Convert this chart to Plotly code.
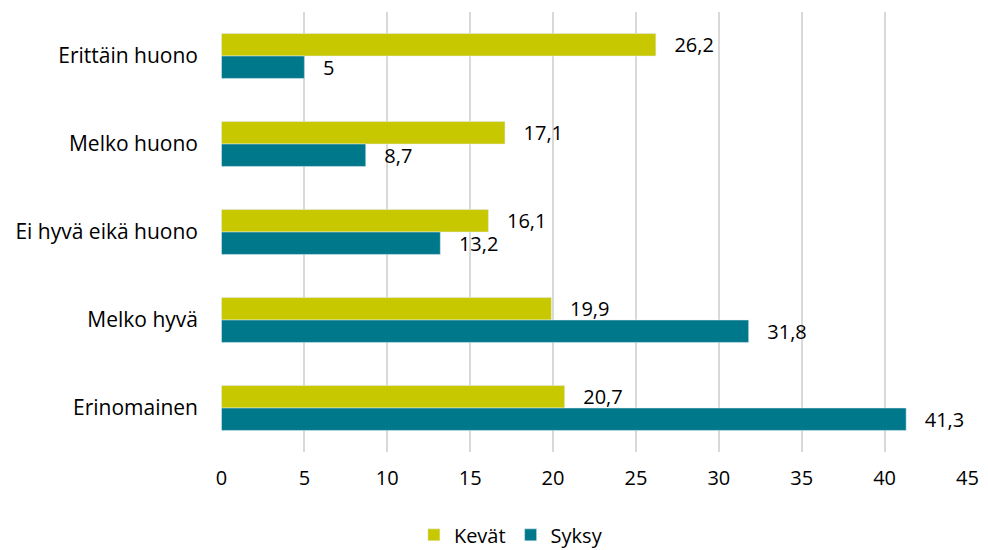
import plotly.graph_objects as go

categories = ["Erittäin huono", "Melko huono", "Ei hyvä eikä huono", "Melko hyvä", "Erinomainen"]
kevat = [26.2, 17.1, 16.1, 19.9, 20.7]
syksy = [5, 8.7, 13.2, 31.8, 41.3]
xticks = [0, 5, 10, 15, 20, 25, 30, 35, 40, 45]

def fmt(v):
    s = ("%g" % v)
    return "   " + s.replace(".", ",")

FONT = "Open Sans, sans-serif"
FS = 20

fig = go.Figure()
fig.add_trace(go.Bar(
    name="Kevät", y=categories, x=kevat, orientation="h",
    marker=dict(color="#c8c800"),
    text=[fmt(v) for v in kevat], textposition="outside", constraintext="none",
    textfont=dict(size=FS, color="#000000", family=FONT),
    cliponaxis=False,
))
fig.add_trace(go.Bar(
    name="Syksy", y=categories, x=syksy, orientation="h",
    marker=dict(color="#00788c"),
    text=[fmt(v) for v in syksy], textposition="outside", constraintext="none",
    textfont=dict(size=FS, color="#000000", family=FONT),
    cliponaxis=False,
))

fig.update_layout(
    width=988, height=542,
    margin=dict(l=213, r=28, t=4, b=98, autoexpand=False),
    paper_bgcolor="white", plot_bgcolor="white",
    barmode="group", bargap=0.49, bargroupgap=0,
    font=dict(family=FONT, size=FS, color="#000000"),
    legend=dict(orientation="h", xref="container", x=0.509, xanchor="center",
                yref="container", y=0.028, yanchor="middle",
                font=dict(size=FS), itemwidth=30, traceorder="normal"),
    xaxis=dict(range=[-0.03, 45.03], tickvals=xticks, showgrid=True, gridcolor="#d9d9d9",
               gridwidth=1.5, zeroline=False,
               showline=False, ticks="", tickfont=dict(size=FS), ticklabelstandoff=12,
               automargin=False, ticklabeloverflow="allow"),
    yaxis=dict(autorange="reversed", showgrid=False, showline=False, ticks="",
               tickfont=dict(size=21), ticklabelstandoff=22, automargin=False),
)

fig.write_html("out.html")
